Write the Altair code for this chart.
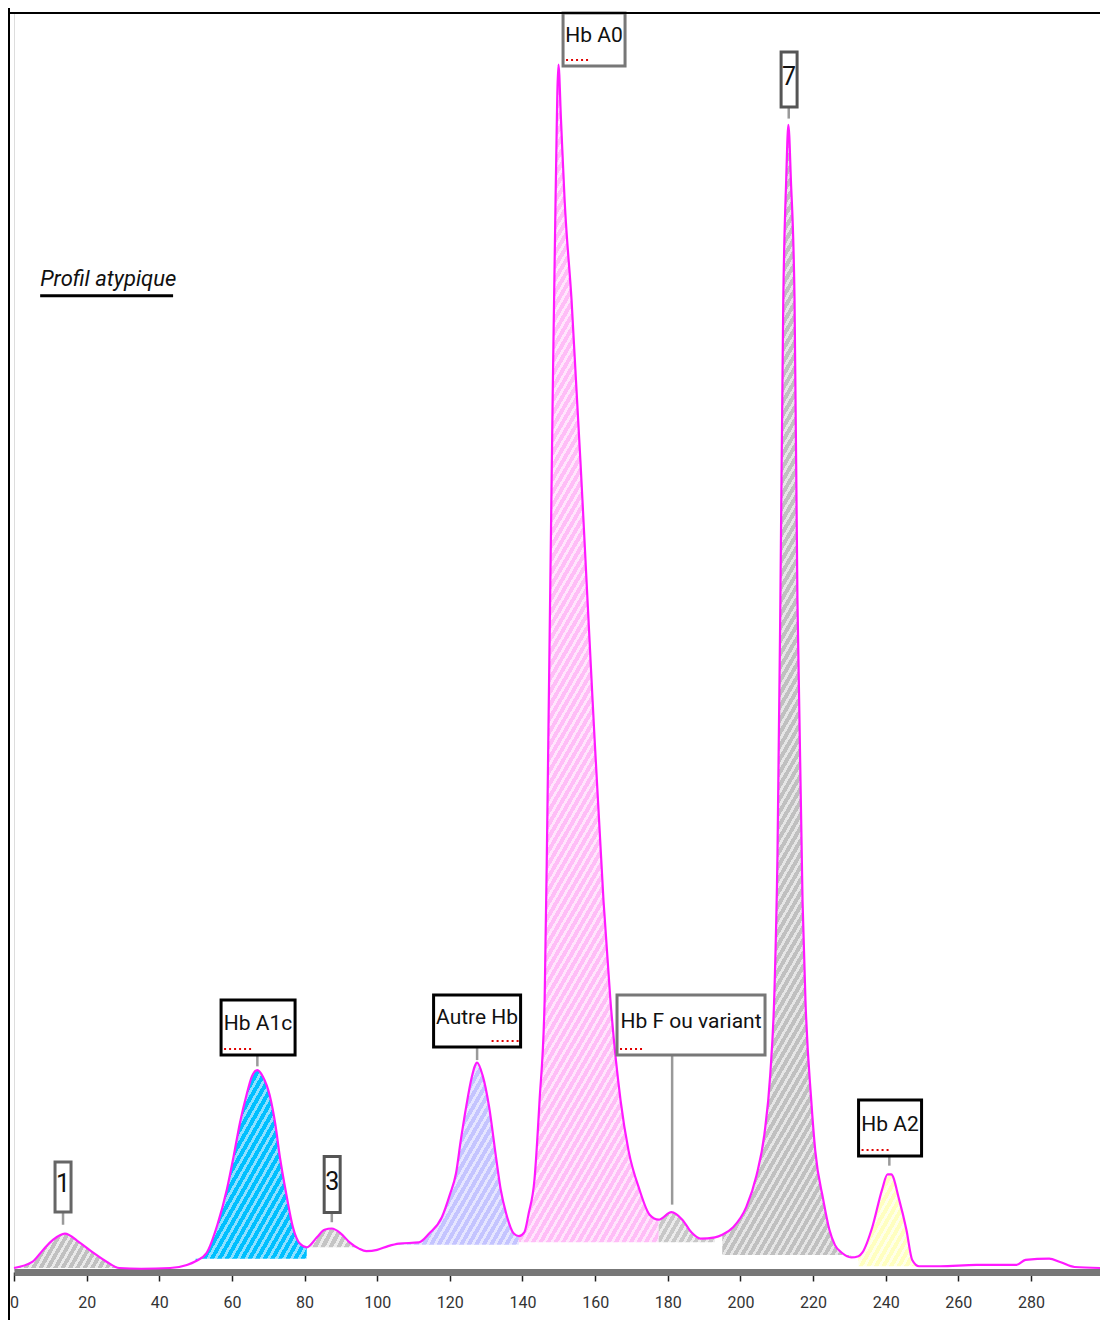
import altair as alt
import pandas as pd

# ---------------- data ----------------
curve_x = [0, 5, 8, 10.7, 14, 18, 21.7, 25.6, 29, 35, 43, 47.6, 50, 53, 56, 58.6, 60.5, 62.2, 64, 65.5,
           67, 68.5, 70.4, 72, 73.2, 75, 76.8, 78.7, 80.6, 83.4, 85.5, 87.5, 90, 92.4, 95, 97, 100, 103,
           106, 111.5, 114.3, 117.8, 120, 121.7, 123, 124.5, 126, 127.5, 129, 130.8, 132.7, 134, 135.5, 137.6,
           139, 140.5, 141.7, 143.3, 144.7, 146.1, 146.9, 148.3, 149.1, 149.9, 150.6, 151.6, 153.5, 156.5,
           159.3, 162.3, 164.2, 167, 169.2, 172.2, 175, 177.5, 181, 184, 186.5, 189, 193, 195, 198, 201.6,
           204.4, 206.6, 208.2, 209.4, 210.2, 211, 211.8, 212.6, 213.2, 213.9, 214.9, 215.7, 217.1, 217.9,
           219.5, 220.6, 222.8, 224.5, 226, 228, 230.5, 232.5, 233.6, 236.3, 239, 240.5, 241.5, 243.7,
           245.7, 247.3, 249.2, 255, 265, 276, 278.5, 285, 288, 292, 299]
curve_v = [0.16, 0.64, 1.6, 2.4, 2.9, 2.2, 1.4, 0.64, 0.16, 0.1, 0.16, 0.4, 0.7, 1.35, 3.6, 6.4, 9.1, 11.7, 13.9, 15.4,
           15.9, 15.4, 13.9, 11.5, 9.0, 6.0, 3.4, 2.1, 1.8, 2.6, 3.2, 3.3, 2.9, 2.2, 1.7, 1.5, 1.6, 1.9,
           2.1, 2.2, 2.9, 4.2, 6.0, 7.7, 10.3, 13.0, 15.3, 16.5, 15.5, 13.0, 9.0, 6.4, 4.5, 2.9,
           2.7, 3.0, 4.5, 7.2, 13.5, 21.5, 37.4, 69.2, 85.1, 95.9, 91.5, 85.1, 77.2, 61.3,
           45.3, 29.4, 21.5, 13.5, 9.5, 6.4, 4.4, 4.0, 4.6, 4.0, 3.0, 2.5, 2.6, 2.8, 3.4, 5.0,
           7.5, 10.8, 15.5, 22.5, 33.0, 53.3, 77.2, 86.7, 91.1, 86.7, 77.2, 53.3, 29.4, 21.5,
           13.5, 9.5, 5.6, 3.2, 2.0, 1.35, 1.0, 1.1, 1.4, 3.4, 6.4, 7.6, 7.6, 5.6,
           3.2, 0.8, 0.3, 0.3, 0.4, 0.4, 0.8, 0.9, 0.64, 0.24, 0.16]

# peak segments (filled areas)
seg_start = [0, 50, 80.6, 106, 139, 177.5, 195, 232.5]
seg_end = [29, 80.6, 95, 139, 177.5, 193, 230.5, 249.2]
seg_base = [0.15, 0.9, 1.8, 2.0, 2.2, 2.2, 1.2, 0.3]

# peak labels
ann_text = ["1", "Hb A1c", "3", "Autre Hb", "Hb A0", "Hb F ou variant", "7", "Hb A2"]
ann_x = [13.5, 67.2, 87.6, 127.5, 159.7, 186.4, 213.4, 241.2]
ann_y = [6.6, 19.3, 6.8, 19.8, 97.9, 19.5, 94.7, 11.3]
lead_x = [13.5, 67.0, 87.5, 127.5, None, 181.2, 213.3, 241.0]
lead_top = [3.6, 16.2, 3.8, 16.7, None, 5.2, 91.6, 8.3]

tick_values = list(range(0, 300, 20))

# ---------------- styling ----------------
W, H = 1086, 1257
XMAX, YMAX = 299, 100
PXX, PXY = W / XMAX, H / YMAX
FONT = "Roboto"

seg_dark = ["#c0c0c0", "#00bfff", "#c4c4c4", "#c4c4ff", "#ffbdf7", "#c8c8c8", "#c0c0c0", "#ffffc0"]
seg_light = ["#eaeaea", "#8ee0ff", "#ececec", "#e6e6ff", "#ffe6fc", "#ececec", "#e6e6e6", "#ffffea"]
box_w = [16, 74, 16, 87, 62, 148, 16, 63]
box_h = [50, 55, 56, 52, 53, 60, 55, 56]
box_stroke = ["#666666", "#000000", "#555555", "#000000", "#777777", "#777777", "#555555", "#000000"]
box_fs = [25, 21, 25, 21, 21, 21, 25, 21]
squig = [None, (3, 30), None, (58, 85), (3, 28), (3, 28), None, (3, 30)]


def hatch(dark, light, w, h, period=6.5, lf=0.4):
    a = 0.866 / max(h, 1)
    b = 0.5 / max(w, 1)
    s = (a + b) / (a * a + b * b)
    n = max(1, int(round((0.866 * w + 0.5 * h) / period)))
    stops = []
    for i in range(n):
        o0 = round(i / n, 6)
        om = round((i + 1 - lf) / n, 6)
        o1 = round((i + 1) / n, 6)
        stops += [{"offset": o0, "color": dark}, {"offset": om, "color": dark},
                  {"offset": om, "color": light}, {"offset": o1, "color": light}]
    return {"gradient": "linear", "x1": 0, "y1": 0, "x2": s * a, "y2": s * b, "stops": stops}


curve = pd.DataFrame({"x": curve_x, "v": curve_v})

xscale = alt.Scale(domain=[0, XMAX], nice=False, zero=False)
yscale = alt.Scale(domain=[0, YMAX], nice=False)
X = alt.X("x:Q", scale=xscale, title=None,
          axis=alt.Axis(values=tick_values, offset=2, domainColor="#777777", domainWidth=7,
                        tickColor="#222222", tickWidth=1.5, tickSize=9, labelPadding=13,
                        labelFont=FONT, labelFontSize=16, labelColor="#333333", grid=False,
                        labelFlush=False))
Y = alt.Y("v:Q", scale=yscale, axis=None)

layers = []

# filled peak areas
for i in range(len(seg_start)):
    d = curve[(curve.x >= seg_start[i]) & (curve.x <= seg_end[i])]
    wpx = (seg_end[i] - seg_start[i]) * PXX
    hpx = (d.v.max() - seg_base[i]) * PXY
    layers.append(
        alt.Chart(d).mark_area(interpolate="monotone", fill=hatch(seg_dark[i], seg_light[i], wpx, hpx),
                               opacity=1)
        .encode(x=X, y=Y, y2=alt.datum(seg_base[i]))
    )

# curve line
layers.append(alt.Chart(curve).mark_line(color="#ff19ff", strokeWidth=2.2, interpolate="monotone")
              .encode(x=X, y=Y))

# leader lines
for i in range(len(ann_text)):
    if lead_x[i] is None:
        continue
    bottom = ann_y[i] - box_h[i] / 2 / PXY
    ld = pd.DataFrame({"x": [lead_x[i]], "v": [bottom], "v2": [lead_top[i]]})
    layers.append(alt.Chart(ld).mark_rule(color="#9a9a9a", strokeWidth=2.5)
                  .encode(x=X, y=Y, y2="v2:Q"))

# label boxes and texts
for i in range(len(ann_text)):
    ad = pd.DataFrame({"x": [ann_x[i]], "v": [ann_y[i]], "t": [ann_text[i]]})
    layers.append(alt.Chart(ad).mark_rect(width=box_w[i], height=box_h[i], fill="white",
                                          stroke=box_stroke[i], strokeWidth=3)
                  .encode(x=X, y=Y))
    layers.append(alt.Chart(ad).mark_text(font=FONT, fontSize=box_fs[i], color="#111111",
                                          baseline="middle", align="center", dy=-3)
                  .encode(x=X, y=Y, text="t:N"))
    if squig[i] is not None:
        x0 = -box_w[i] / 2 + squig[i][0]
        x1 = -box_w[i] / 2 + squig[i][1]
        yo = box_h[i] / 2 - 6
        layers.append(alt.Chart(ad).mark_rule(color="#e00000", strokeWidth=2, strokeDash=[2, 3],
                                              xOffset=x0, x2Offset=x1, yOffset=yo, y2Offset=yo)
                      .encode(x=X, x2="x:Q", y=Y, y2="v:Q"))

# "Profil atypique" note
note = pd.DataFrame({"x": [7.2], "v": [78.3], "t": ["Profil atypique"], "x2": [43.8]})
layers.append(alt.Chart(note).mark_text(font=FONT, fontSize=22, fontStyle="italic", align="left",
                                        baseline="alphabetic", color="#111111")
              .encode(x=X, y=Y, text="t:N"))
layers.append(alt.Chart(note).mark_rule(color="black", strokeWidth=3, yOffset=10, y2Offset=10)
              .encode(x=X, x2="x2:Q", y=Y, y2="v:Q"))

# frame lines (top and left border)
frame = pd.DataFrame({"x": [0]})
layers.append(alt.Chart(frame).mark_rule(color="black", strokeWidth=2)
              .encode(x=alt.value(-5), x2=alt.value(-5), y=alt.value(-6), y2=alt.value(H + 60)))
layers.append(alt.Chart(frame).mark_rule(color="black", strokeWidth=2)
              .encode(x=alt.value(-6), x2=alt.value(W + 6), y=alt.value(0), y2=alt.value(0)))

chart = alt.layer(*layers).properties(
    width=W, height=H,
    autosize=alt.AutoSizeParams(type="none"),
    padding={"left": 6, "top": 5, "right": 0, "bottom": 50},
).configure_view(stroke=None).configure(background="white")

chart.save("out.html", embed_options={"renderer": "svg", "actions": False})
